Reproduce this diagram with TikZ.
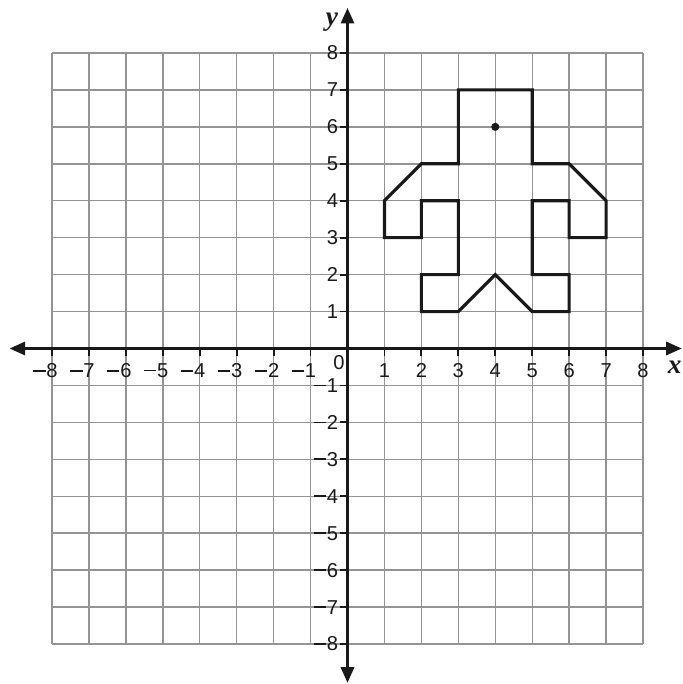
\documentclass[tikz,border=0pt]{standalone}
\usepackage{fontspec}
\setmainfont{Liberation Sans}
\newfontfamily\serifit{Liberation Serif}
\usetikzlibrary{arrows.meta}
\newcommand{\negsign}{\rule[0.3em]{0.62em}{0.09em}\kern0.04em}
\tikzset{
  gridline/.style={draw=black!42, line width=1.1pt},
  axisline/.style={draw=black!90, line width=2.3pt, {Triangle[length=12pt,width=10pt]}-{Triangle[length=12pt,width=10pt]}},
  tickline/.style={draw=black!90, line width=1.4pt},
  ticklabel/.style={font=\fontsize{15.5}{17}\selectfont, inner sep=0pt, text=black!90},
  shapeline/.style={draw=black!90, line width=2.4pt, line join=miter},
  axislabel/.style={font=\serifit\itshape\bfseries\fontsize{21}{22}\selectfont, inner sep=0pt, text=black!90}
}
\begin{document}
\begin{tikzpicture}[x=1cm,y=1cm]
\useasboundingbox (-9.407,-9.082) rectangle (9.055,9.434);
\fill[white] (-9.407,-9.082) rectangle (9.055,9.434);
% grid
\foreach \i in {-8,...,8} {
  \draw[gridline] (\i,-8) -- (\i,8);
  \draw[gridline] (-8,\i) -- (8,\i);
}
% axes
\coordinate (xl) at (-9.15,0);
\coordinate (xr) at (9.05,0);
\coordinate (yb) at (0,-9.05);
\coordinate (yt) at (0,9.22);
\draw[axisline] (xl) -- (xr);
\draw[axisline] (yb) -- (yt);
% ticks and labels
\foreach \i in {1,...,8} {
  \draw[tickline] (\i,0) -- (\i,-0.2);
  \draw[tickline] (-\i,0) -- (-\i,-0.2);
  \draw[tickline] (0,\i) -- (-0.2,\i);
  \draw[tickline] (0,-\i) -- (-0.2,-\i);
  \node[ticklabel] (xp\i) at (\i,-0.6) {\i};
  \node[ticklabel] (xn\i) at (-\i,-0.6) {\llap{\negsign}\i};
  \node[ticklabel, anchor=east] (yp\i) at (-0.25,\i) {\i};
  \node[ticklabel, anchor=east] (yn\i) at (-0.25,-\i) {\negsign\i};
}
\node[ticklabel] (zero) at (-0.23,-0.38) {0};
\node[axislabel] (ylab) at (-0.42,8.83) {y};
\node[axislabel] (xlab) at (8.86,-0.5) {x};
% figure
\draw[shapeline] (3,7) -- (5,7) -- (5,5) -- (6,5) -- (7,4) -- (7,3) -- (6,3) -- (6,4)
  -- (5,4) -- (5,2) -- (6,2) -- (6,1) -- (5,1) -- (4,2) -- (3,1) -- (2,1) -- (2,2)
  -- (3,2) -- (3,4) -- (2,4) -- (2,3) -- (1,3) -- (1,4) -- (2,5) -- (3,5) -- cycle;
\fill[black!90] (4,6) circle (0.11);
\end{tikzpicture}
\end{document}
